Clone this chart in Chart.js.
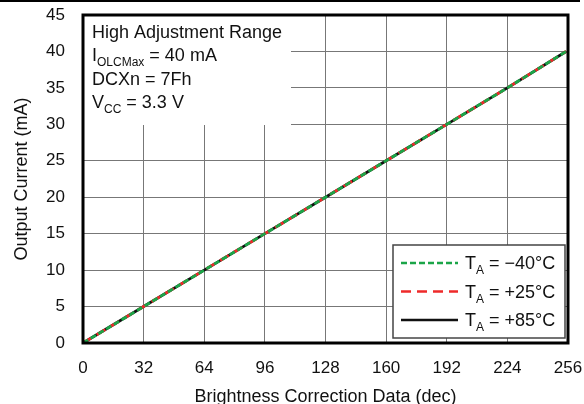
<!DOCTYPE html>
<html>
<head>
<meta charset="utf-8">
<script src="https://cdn.jsdelivr.net/npm/chart.js@4"></script>
<style>
  html, body { margin: 0; padding: 0; background: #fff; }
  #wrap { width: 584px; height: 404px; }
</style>
</head>
<body>
<div id="wrap"><canvas id="myChart" width="584" height="404"></canvas></div>
<script>
var brightness = [0, 32, 64, 96, 128, 160, 192, 224, 255];
var currentM40 = [0, 5.0, 10.0, 15.0, 20.0, 25.0, 30.0, 35.0, 40.0];
var currentP25 = [0, 5.0, 10.0, 15.0, 20.0, 25.0, 30.0, 35.0, 40.0];
var currentP85 = [0, 5.0, 10.0, 15.0, 20.0, 25.0, 30.0, 35.0, 40.0];
var xTicks = [0, 32, 64, 96, 128, 160, 192, 224, 256];
var yTicks = [0, 5, 10, 15, 20, 25, 30, 35, 40, 45];

var FONT = 'Liberation Sans, Arial, Helvetica, sans-serif';
var GREEN = '#1ba548';
var RED = '#ee2a2a';

function toPoints(ys) {
    return brightness.map(function (x, i) { return { x: x, y: ys[i] }; });
}

// text with an optional subscript part: [[text, isSub], ...]
function drawRich(ctx, x, y, parts, size) {
    parts.forEach(function (p) {
        var sz = p[1] ? Math.round(size * 0.68) : size;
        ctx.font = sz + 'px ' + FONT;
        ctx.fillText(p[0], x, p[1] ? y + 5 : y);
        x += ctx.measureText(p[0]).width;
    });
}

var overlays = {
    id: 'overlays',
    afterDatasetsDraw: function (chart) {
        var ctx = chart.ctx;
        var a = chart.chartArea;
        ctx.save();
        ctx.textBaseline = 'alphabetic';

        // condition box, top left
        ctx.fillStyle = '#fff';
        ctx.fillRect(a.left, a.top, 208, 110);
        ctx.fillStyle = '#111';
        drawRich(ctx, a.left + 9, a.top + 23, [['High Adjustment Range', false]], 18);
        drawRich(ctx, a.left + 9, a.top + 46, [['I', false], ['OLCMax', true], [' = 40 mA', false]], 18);
        drawRich(ctx, a.left + 9, a.top + 70, [['DCXn = 7Fh', false]], 18);
        drawRich(ctx, a.left + 9, a.top + 93, [['V', false], ['CC', true], [' = 3.3 V', false]], 18);

        // legend, bottom right
        var lx = 393, ly = 245, lw = 172, lh = 93;
        ctx.fillStyle = '#fff';
        ctx.fillRect(lx, ly, lw, lh);
        ctx.strokeStyle = '#444';
        ctx.lineWidth = 1.5;
        ctx.strokeRect(lx, ly, lw, lh);
        var items = [
            { c: GREEN, d: [6, 3], t: '\u221240\u00b0C' },
            { c: RED, d: [10, 6], t: '+25\u00b0C' },
            { c: '#111', d: [], t: '+85\u00b0C' }
        ];
        items.forEach(function (it, i) {
            var yy = 263 + i * 28.5;
            ctx.beginPath();
            ctx.setLineDash(it.d);
            ctx.strokeStyle = it.c;
            ctx.lineWidth = 2.5;
            ctx.moveTo(401, yy);
            ctx.lineTo(458, yy);
            ctx.stroke();
            ctx.setLineDash([]);
            ctx.fillStyle = '#111';
            drawRich(ctx, 465, yy + 6, [['T', false], ['A', true], [' = ' + it.t, false]], 18);
        });

        ctx.restore();
    },
    afterDraw: function (chart) {
        var ctx = chart.ctx;
        var a = chart.chartArea;
        ctx.save();
        ctx.strokeStyle = '#000';
        ctx.lineWidth = 3;
        ctx.strokeRect(a.left, a.top, a.right - a.left, a.bottom - a.top);
        ctx.fillStyle = '#000';
        ctx.fillRect(0, 0, 580, 2);
        ctx.restore();
    }
};

var ctx = document.getElementById('myChart').getContext('2d');
var myChart = new Chart(ctx, {
    type: 'line',
    data: {
        datasets: [
            {
                label: 'TA = +85°C',
                data: toPoints(currentP85),
                borderColor: '#111',
                borderWidth: 2.8,
                pointRadius: 0,
                order: 3
            },
            {
                label: 'TA = +25°C',
                data: toPoints(currentP25),
                borderColor: RED,
                borderDash: [10, 6],
                borderWidth: 2.8,
                pointRadius: 0,
                order: 2
            },
            {
                label: 'TA = −40°C',
                data: toPoints(currentM40),
                borderColor: GREEN,
                borderDash: [6, 3],
                borderWidth: 2.8,
                pointRadius: 0,
                order: 1
            }
        ]
    },
    options: {
        responsive: false,
        animation: false,
        layout: { padding: { left: 0, right: 16, top: 15, bottom: 0 } },
        plugins: {
            legend: { display: false },
            tooltip: { enabled: false }
        },
        scales: {
            x: {
                type: 'linear',
                min: 0,
                max: 256,
                afterFit: function (s) {
                    s.height = 61;
                    s.paddingLeft = 0;
                    s.paddingRight = 0;
                },
                afterBuildTicks: function (s) { s.ticks = xTicks.map(function (v) { return { value: v }; }); },
                grid: { color: '#777', lineWidth: 1, drawTicks: false },
                border: { display: false },
                ticks: { color: '#111', padding: 15, maxRotation: 0, font: { family: FONT, size: 17 } },
                title: {
                    display: true,
                    text: 'Brightness Correction Data (dec)',
                    color: '#111',
                    padding: { top: -5, bottom: -4 },
                    font: { family: FONT, size: 18 }
                }
            },
            y: {
                min: 0,
                max: 45,
                afterFit: function (s) {
                    s.width = 83;
                    s.paddingTop = 0;
                    s.paddingBottom = 0;
                },
                afterBuildTicks: function (s) { s.ticks = yTicks.map(function (v) { return { value: v }; }); },
                grid: { color: '#777', lineWidth: 1, drawTicks: false },
                border: { display: false },
                ticks: { color: '#111', padding: 18, font: { family: FONT, size: 17 } },
                title: {
                    display: true,
                    text: 'Output Current (mA)',
                    color: '#111',
                    padding: { top: 11, bottom: 0 },
                    font: { family: FONT, size: 18 }
                }
            }
        }
    },
    plugins: [overlays]
});
</script>
</body>
</html>
